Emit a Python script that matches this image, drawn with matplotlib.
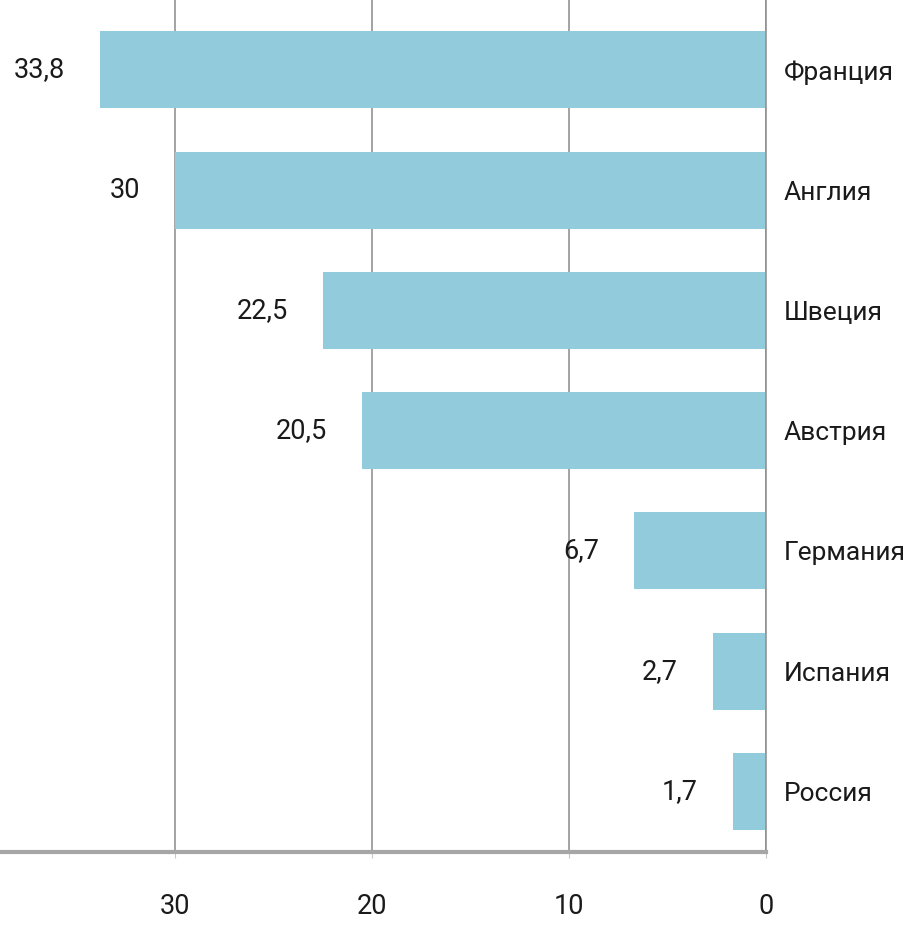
import matplotlib
matplotlib.use("Agg")
import matplotlib.pyplot as plt

# --- данные ---
countries = ["Франция", "Англия", "Швеция", "Австрия", "Германия", "Испания", "Россия"]
values = [33.8, 30, 22.5, 20.5, 6.7, 2.7, 1.7]
value_labels = ["33,8", "30", "22,5", "20,5", "6,7", "2,7", "1,7"]
x_ticks = [0, 10, 20, 30, 40]

plt.rcParams['font.family'] = ['Roboto', 'DejaVu Sans']

bar_color = "#92CCDC"
grid_color = "#8A8A8A"
text_color = "#1A1A1A"

W, H = 906, 940
fig = plt.figure(figsize=(W / 100, H / 100), dpi=100)

# область построения выходит за левый и верхний край (как на обрезанном скриншоте)
left_px, right_px = -22, 766
bottom_px = H - 851.5
unit_px = 120.25
y_lo, y_hi = -0.5, 6.6
ax = fig.add_axes([left_px / W, bottom_px / H,
                   (right_px - left_px) / W, (y_hi - y_lo) * unit_px / H])

pos = list(range(len(countries)))[::-1]   # Франция сверху
ax.barh(pos, values, height=0.64, color=bar_color, zorder=2)

for p, v, lab in zip(pos, values, value_labels):
    ax.annotate(lab, (v, p), xytext=(-25, 0), textcoords="offset points",
                ha="right", va="center", fontsize=19.5, color=text_color)

ax.set_xlim(40, 0)
ax.set_ylim(y_lo, y_hi)
ax.set_xticks(x_ticks)
ax.set_xticklabels([str(t) for t in x_ticks])
ax.xaxis.grid(True, color=grid_color, linewidth=1.1, zorder=1)
ax.set_axisbelow(True)

ax.yaxis.tick_right()
ax.set_yticks(pos)
ax.set_yticklabels(countries)

ax.tick_params(axis="x", length=4, color="#C8C8C8", pad=26, labelsize=19.5,
               labelcolor=text_color)
ax.tick_params(axis="y", length=0, pad=13, labelsize=19, labelcolor=text_color)

for side in ("top", "left"):
    ax.spines[side].set_visible(False)
ax.spines["right"].set_color("#8C8C8C")
ax.spines["right"].set_linewidth(1.1)
ax.spines["bottom"].set_color("#A6A6A6")
ax.spines["bottom"].set_linewidth(3)

fig.savefig("out.png", dpi=100)
